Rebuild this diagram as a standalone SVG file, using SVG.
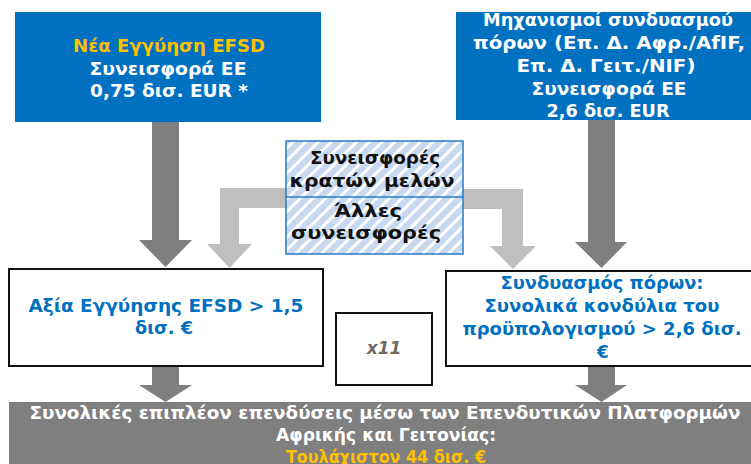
<svg xmlns="http://www.w3.org/2000/svg" width="751" height="464" viewBox="0 0 751 464">
<defs>
<pattern id="hatch" width="9" height="9" patternUnits="userSpaceOnUse" patternTransform="rotate(45)">
<rect width="9" height="9" fill="#C6D9F1"/>
<rect x="0" y="0" width="3" height="9" fill="#FFFFFF"/>
</pattern>
<style>
.t{font-family:"DejaVu Sans","Noto Sans",sans-serif;font-weight:bold;text-anchor:middle;}
.w{fill:#FFFFFF;font-size:17px;}
.y{fill:#FFC000;font-size:17px;}
.b{fill:#0070C0;font-size:17px;}
.k{fill:#111111;font-size:18px;}
.g{fill:#FFFFFF;font-size:17px;}
.gy{fill:#FFC000;font-size:17px;}
.blue{fill:#0070C0;}
.box{fill:#FFFFFF;stroke:#111111;stroke-width:2;}
.dark{fill:#7F7F7F;}
.light{fill:#BFBFBF;}
</style>
</defs>
<rect width="751" height="464" fill="#FFFFFF"/>

<g id="connectors">
<polygon class="dark" points="152,121 179,121 179,240 192,240 165.5,267 139,240 152,240"/>
<polygon class="dark" points="588,119 615,119 615,242 627,242 601.5,268 575,242 588,242"/>
<polygon class="light" points="287,188 220,188 220,244 207,244 229.5,268 252,244 239,244 239,208 287,208"/>
<polygon class="light" points="462,189 523,189 523,246 536,246 513,269 490,246 502,246 502,209 462,209"/>
<polygon class="dark" points="152,366 179,366 179,385 192,385 165.5,402 139,385 152,385"/>
<polygon class="dark" points="588,366 615,366 615,385 627,385 601.5,402 575,385 588,385"/>
</g>

<g id="node-efsd">
<rect class="blue" x="15" y="12" width="306" height="110"/>
<text class="t y" x="169" y="52" textLength="192" lengthAdjust="spacingAndGlyphs">Νέα Εγγύηση EFSD</text>
<text class="t w" x="168" y="75" textLength="157" lengthAdjust="spacingAndGlyphs">Συνεισφορά ΕΕ</text>
<text class="t w" x="169" y="97" textLength="158" lengthAdjust="spacingAndGlyphs">0,75 δισ. EUR *</text>
</g>

<g id="node-blending">
<rect class="blue" x="456" y="12" width="310" height="108"/>
<text class="t w" x="608" y="26" textLength="250" lengthAdjust="spacingAndGlyphs">Μηχανισμοί συνδυασμού</text>
<text class="t w" x="609" y="49" textLength="272" lengthAdjust="spacingAndGlyphs">πόρων (Επ. Δ. Αφρ./AfIF,</text>
<text class="t w" x="606" y="72" textLength="179" lengthAdjust="spacingAndGlyphs">Επ. Δ. Γειτ./NIF)</text>
<text class="t w" x="609" y="95" textLength="155" lengthAdjust="spacingAndGlyphs">Συνεισφορά ΕΕ</text>
<text class="t w" x="608" y="117" textLength="123" lengthAdjust="spacingAndGlyphs">2,6 δισ. EUR</text>
</g>

<g id="node-contributions">
<rect x="286" y="141" width="177" height="113" fill="url(#hatch)" stroke="#2A7BC6" stroke-width="1.5"/>
<line x1="286" y1="197" x2="463" y2="197" stroke="#2A7BC6" stroke-width="1.5"/>
<text class="t k" x="375" y="164" textLength="130" lengthAdjust="spacingAndGlyphs">Συνεισφορές</text>
<text class="t k" x="372" y="187" textLength="165" lengthAdjust="spacingAndGlyphs">κρατών μελών</text>
<text class="t k" x="368" y="217" textLength="68" lengthAdjust="spacingAndGlyphs">Άλλες</text>
<text class="t k" x="366" y="239" textLength="150" lengthAdjust="spacingAndGlyphs">συνεισφορές</text>
</g>

<g id="node-guarantee-value">
<rect class="box" x="9" y="269" width="314" height="97"/>
<text class="t b" x="166" y="312" textLength="275" lengthAdjust="spacingAndGlyphs">Αξία Εγγύησης EFSD &gt; 1,5</text>
<text class="t b" x="164" y="334" textLength="58" lengthAdjust="spacingAndGlyphs">δισ. €</text>
</g>

<g id="node-x11">
<rect class="box" x="336" y="313" width="96" height="72"/>
<text class="t" x="384" y="354" style="font-size:17px;font-style:italic;fill:#6E6A62;">x11</text>
</g>

<g id="node-blending-total">
<rect class="box" x="446" y="271" width="320" height="95"/>
<text class="t b" x="602" y="289" textLength="203" lengthAdjust="spacingAndGlyphs">Συνδυασμός πόρων:</text>
<text class="t b" x="602" y="312" textLength="235" lengthAdjust="spacingAndGlyphs">Συνολικά κονδύλια του</text>
<text class="t b" x="602" y="335" textLength="279" lengthAdjust="spacingAndGlyphs">προϋπολογισμού &gt; 2,6 δισ.</text>
<text class="t b" x="603" y="358">€</text>
</g>

<g id="node-total">
<rect class="dark" x="9" y="402" width="760" height="62"/>
<text class="t g" x="385" y="419" textLength="711" lengthAdjust="spacingAndGlyphs">Συνολικές επιπλέον επενδύσεις μέσω των Επενδυτικών Πλατφορμών</text>
<text class="t g" x="386" y="441" textLength="220" lengthAdjust="spacingAndGlyphs">Αφρικής και Γειτονίας:</text>
<text class="t gy" x="386" y="463" textLength="200" lengthAdjust="spacingAndGlyphs">Τουλάχιστον 44 δισ. €</text>
</g>
</svg>
